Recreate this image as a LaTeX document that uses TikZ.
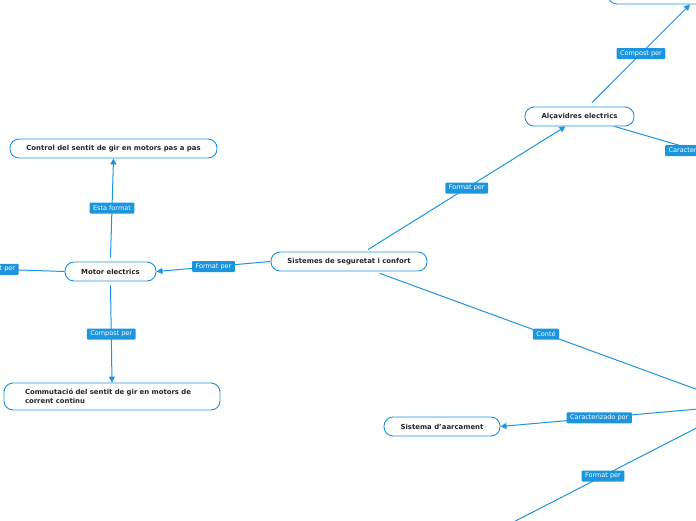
\documentclass[tikz,border=0pt]{standalone}
\usepackage{fontspec}
\setmainfont{DejaVu Sans}
\usetikzlibrary{arrows.meta, positioning}
\definecolor{mmblue}{HTML}{1B95DE}

\begin{document}
\begin{tikzpicture}[x=1pt, y=-1pt,
    every node/.style={font=\fontsize{6.5}{8}\selectfont},
    topic/.style={draw=mmblue, line width=0.9pt, fill=white, rounded corners=9pt,
      minimum height=19pt, font=\fontsize{6.9}{9}\selectfont\bfseries, text=black!85},
    link/.style={draw=mmblue, line width=1pt, -{Triangle[length=6pt,width=6pt]}},
    tag/.style={fill=mmblue, text=white, rounded corners=1pt, inner xsep=3.5pt,
      inner ysep=0pt, minimum height=11pt, font=\fontsize{6.5}{7}\selectfont}]
  \useasboundingbox (0,0) rectangle (696,520);
  \clip (0,0) rectangle (696,520);

  \node[topic, minimum width=156pt] (sis) at (349,261.5) {Sistemes de seguretat i confort};
  \node[topic, minimum width=91pt] (motor) at (110.5,271.5) {Motor electrics};
  \node[topic, minimum width=207pt] (control) at (113.5,148.5) {Control del sentit de gir en motors pas a pas};
  \node[topic, minimum width=216pt, minimum height=27pt, text width=174pt, inner xsep=21pt, align=left]
    (commut) at (112,396.5) {Commutació del sentit de gir en motors de corrent continu};
  \node[topic, minimum width=109pt] (alca) at (579.5,116.5) {Alçavidres electrics};
  \node[topic, minimum width=116pt] (aparc) at (442,426.5) {Sistema d'aarcament};
  \node[topic, minimum width=160pt, minimum height=22pt] (upper) at (688,-7) {};

  \coordinate (leftend) at (-70,267);
  \coordinate (rightend) at (781,175);
  \coordinate (hidA) at (712,395);
  \coordinate (hidB) at (698,409);
  \coordinate (hidC) at (712,420);
  \coordinate (lowend) at (494,532);

  \draw[link] (sis.west) -- node[tag] {Format per} (motor.east);
  \draw[link] ([yshift=4pt]motor.north) -- node[tag] {Esta format} (control.south);
  \draw[link] ([yshift=-4pt]motor.south) -- node[tag] {Compost per} (commut.north);
  \draw[link] (motor.west) -- node[tag] {Format per} (leftend);
  \draw[link] ([xshift=19pt, yshift=2pt]sis.north) -- node[tag] {Format per} ([xshift=-14pt]alca.south);
  \draw[link] ([xshift=12.5pt, yshift=4pt]alca.north) -- node[tag] {Compost per} ([xshift=2pt]upper.south);
  \draw[link] ([xshift=35pt]alca.south) -- node[tag] {Caracterizado por} (rightend);
  \draw[link] ([xshift=31pt, yshift=-2pt]sis.south) -- node[tag] {Conté} (hidA);
  \draw[link] (hidB) -- node[tag] {Caracterizado por} (aparc.east);
  \draw[link] (hidC) -- node[tag] {Format per} (lowend);
\end{tikzpicture}
\end{document}
